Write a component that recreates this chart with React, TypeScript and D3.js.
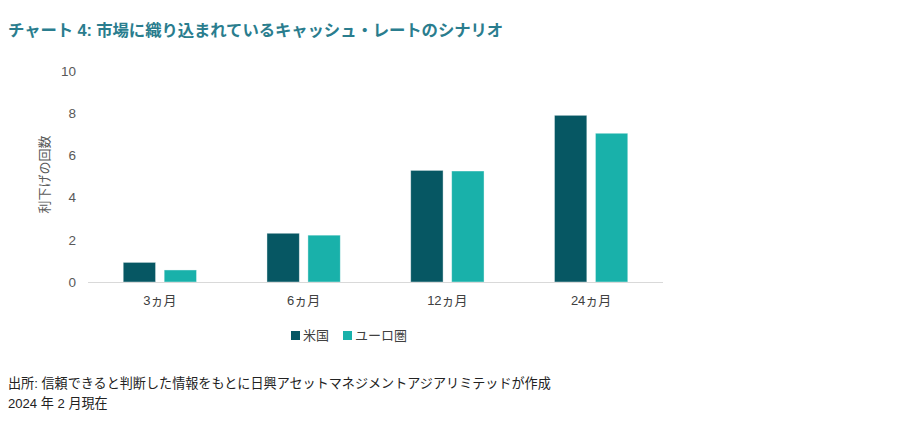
import React from "react";
import * as d3 from "d3";

const categories = ["3ヵ月", "6ヵ月", "12ヵ月", "24ヵ月"];
const seriesNames = ["米国", "ユーロ圏"];
const usValues = [0.93, 2.31, 5.29, 7.9];
const euroValues = [0.57, 2.22, 5.26, 7.05];
const yTicks = [0, 2, 4, 6, 8, 10];
const colors = ["#065763", "#19b1aa"];

const title = "チャート 4: 市場に織り込まれているキャッシュ・レートのシナリオ";
const yTitle = "利下げの回数";
const source1 = "出所: 信頼できると判断した情報をもとに日興アセットマネジメントアジアリミテッドが作成";
const source2 = "2024 年 2 月現在";

const W = 913;
const H = 422;
const FONT = "'Liberation Sans', Arial, 'Noto Sans CJK JP', sans-serif";

export default function App() {
  const x0 = d3.scaleBand<string>().domain(categories).range([88, 663]).paddingInner(0.49).paddingOuter(0.245);
  const x1 = d3.scaleBand<string>().domain(seriesNames).range([0, x0.bandwidth()]).paddingInner(0.21);
  const y = d3.scaleLinear().domain([0, 10]).range([282, 71]);
  const series = [usValues, euroValues];

  return (
    <svg width={W} height={H} style={{ position: "absolute", left: 0, top: 0, fontFamily: FONT }}>
      <rect width={W} height={H} fill="#fff" />
      <text x={8} y={36} fontSize={16.4} fontWeight="bold" fill="#2a7d8e" letterSpacing={-0.1}>{title}</text>

      {yTicks.map((t) => (
        <text key={t} x={76} y={y(t)} dy="0.35em" textAnchor="end" fontSize={13.5} fill="#595959">{t}</text>
      ))}
      <text transform={`translate(49,${y(5) - 2}) rotate(-90)`} textAnchor="middle" fontSize={13} fill="#595959">{yTitle}</text>

      {categories.map((c, i) => (
        <g key={c} transform={`translate(${x0(c)},0)`}>
          {seriesNames.map((s, j) => (
            <rect
              key={s}
              x={x1(s)}
              y={y(series[j][i])}
              width={x1.bandwidth()}
              height={y(0) - y(series[j][i])}
              fill={colors[j]}
              stroke="#ffffff"
              strokeOpacity={0.5}
              strokeWidth={0.8}
            />
          ))}
          <text x={x0.bandwidth() / 2} y={305} textAnchor="middle" fontSize={13} fill="#404040">{c}</text>
        </g>
      ))}
      <line x1={88} x2={663} y1={y(0) + 0.5} y2={y(0) + 0.5} stroke="#d9d9d9" strokeWidth={1} />

      <g transform="translate(291,331)">
        <rect x={0} y={0} width={9} height={9} fill={colors[0]} />
        <text x={12} y={9} fontSize={13} fill="#404040">{seriesNames[0]}</text>
        <rect x={52} y={0} width={9} height={9} fill={colors[1]} />
        <text x={64} y={9} fontSize={13} fill="#404040">{seriesNames[1]}</text>
      </g>

      <text x={8} y={388} fontSize={13.1} fill="#222">{source1}</text>
      <text x={8} y={408} fontSize={13.1} fill="#222">{source2}</text>
    </svg>
  );
}
